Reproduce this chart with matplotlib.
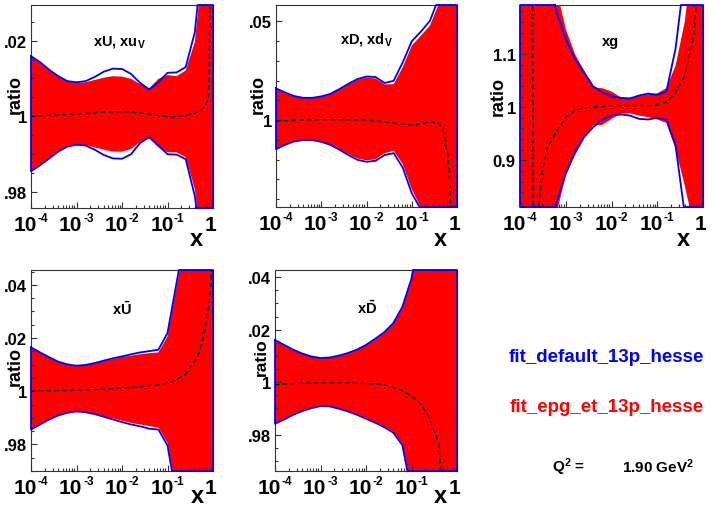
import numpy as np
import matplotlib
matplotlib.use('Agg')
import matplotlib.pyplot as plt
from matplotlib.path import Path
from matplotlib.transforms import Bbox, offset_copy
from matplotlib.ticker import FixedLocator, MultipleLocator, LogLocator, NullFormatter

plt.rcParams['font.family'] = ['Liberation Sans', 'DejaVu Sans']
plt.rcParams['font.weight'] = 'bold'
plt.rcParams['mathtext.fontset'] = 'custom'
plt.rcParams['mathtext.rm'] = 'Liberation Sans:bold'
plt.rcParams['mathtext.bf'] = 'Liberation Sans:bold'
plt.rcParams['mathtext.it'] = 'Liberation Sans:bold'
plt.rcParams['mathtext.sf'] = 'Liberation Sans:bold'
plt.rcParams['mathtext.default'] = 'rm'

# ---------------- data (log10 x grid) ----------------
logx = [-4.0, -3.8, -3.6, -3.4, -3.2, -3.0, -2.8, -2.6, -2.4, -2.2, -2.0, -1.8,
        -1.6, -1.4, -1.2, -1.0, -0.8, -0.6, -0.4, -0.3, -0.2, -0.1, -0.05, 0.0]

# xU, xu_V
xU_blue_up = [1.0159, 1.0143, 1.0123, 1.0106, 1.0093, 1.0090, 1.0093, 1.0104, 1.0118, 1.0126, 1.0125, 1.0112,
              1.0088, 1.0071, 1.0090, 1.0115, 1.0116, 1.0130, 1.0222, 1.034, 1.06, 1.10, 1.12, 1.15]
xU_blue_lo = [0.9855, 0.9871, 0.9889, 0.9907, 0.9920, 0.9925, 0.9923, 0.9912, 0.9898, 0.9889, 0.9888, 0.9900,
              0.9930, 0.9945, 0.9923, 0.9900, 0.9899, 0.9887, 0.9790, 0.970, 0.95, 0.92, 0.90, 0.88]
xU_red_up = [1.0157, 1.0141, 1.0122, 1.0104, 1.0092, 1.0088, 1.0090, 1.0096, 1.0102, 1.0106, 1.0105, 1.0099,
             1.0085, 1.0074, 1.0099, 1.0109, 1.0106, 1.0121, 1.0196, 1.031, 1.055, 1.09, 1.11, 1.14]
xU_red_lo = [0.9856, 0.9873, 0.9891, 0.9908, 0.9921, 0.9925, 0.9924, 0.9918, 0.9912, 0.9907, 0.9907, 0.9914,
             0.9933, 0.9942, 0.9918, 0.9905, 0.9905, 0.9892, 0.9808, 0.972, 0.955, 0.93, 0.91, 0.89]
xU_center = [1.0000, 1.0001, 1.0003, 1.0004, 1.0005, 1.0006, 1.0008, 1.0010, 1.0011, 1.0012, 1.0012, 1.0011,
             1.0009, 1.0006, 1.0002, 0.9999, 0.9999, 1.0003, 1.0008, 1.0013, 1.0024, 1.0046, 1.04, 1.10]

# xD, xd_V
xD_blue_up = [1.0161, 1.0140, 1.0122, 1.0113, 1.0113, 1.0120, 1.0133, 1.0157, 1.0184, 1.0208, 1.0221, 1.0218,
              1.0188, 1.0199, 1.0292, 1.0399, 1.0448, 1.0502, 1.062, 1.08, 1.10, 1.12, 1.13, 1.15]
xD_blue_lo = [0.9853, 0.9875, 0.9892, 0.9899, 0.9899, 0.9890, 0.9875, 0.9850, 0.9823, 0.9799, 0.9789, 0.9794,
              0.9823, 0.9833, 0.9760, 0.9630, 0.9549, 0.94, 0.92, 0.91, 0.90, 0.89, 0.885, 0.88]
xD_red_up = [1.0157, 1.0137, 1.0120, 1.0112, 1.0112, 1.0118, 1.0132, 1.0154, 1.0181, 1.0204, 1.0216, 1.0211,
             1.0181, 1.0182, 1.0267, 1.0377, 1.0427, 1.0478, 1.059, 1.075, 1.09, 1.11, 1.12, 1.14]
xD_red_lo = [0.9856, 0.9877, 0.9894, 0.9900, 0.9900, 0.9892, 0.9877, 0.9853, 0.9828, 0.9806, 0.9796, 0.9802,
             0.9833, 0.9845, 0.9777, 0.9650, 0.9557, 0.945, 0.93, 0.92, 0.91, 0.90, 0.895, 0.89]
xD_center = [0.9997, 0.9997, 0.9998, 0.9999, 1.0001, 1.0002, 1.0002, 1.0002, 1.0001, 1.0001, 1.0000, 0.9996,
             0.9991, 0.9985, 0.9980, 0.9975, 0.9980, 0.9992, 0.9985, 0.9946, 0.9819, 0.94, 0.92, 0.90]

# xg
xg_blue_up = [1.60, 1.45, 1.33, 1.25, 1.178, 1.128, 1.0906, 1.0656, 1.039, 1.028, 1.0206, 1.0175,
              1.0163, 1.0219, 1.0256, 1.0231, 1.0294, 1.11, 1.25, 1.35, 1.45, 1.55, 1.60, 1.65]
xg_blue_lo = [0.40, 0.55, 0.65, 0.75, 0.822, 0.875, 0.9156, 0.9438, 0.9625, 0.9769, 0.9844, 0.9863,
              0.9844, 0.9781, 0.9769, 0.9800, 0.9763, 0.928, 0.80, 0.70, 0.60, 0.50, 0.45, 0.40]
xg_red_up = [1.60, 1.50, 1.40, 1.30, 1.22, 1.147, 1.10, 1.069, 1.0375, 1.0356, 1.0294, 1.019,
             1.0175, 1.021, 1.024, 1.026, 1.036, 1.078, 1.16, 1.23, 1.30, 1.40, 1.45, 1.50]
xg_red_lo = [0.40, 0.50, 0.60, 0.72, 0.80, 0.872, 0.909, 0.9406, 0.9656, 0.9669, 0.9781, 0.9875,
             0.9888, 0.9844, 0.9813, 0.9769, 0.9706, 0.922, 0.853, 0.815, 0.77, 0.65, 0.60, 0.50]
xg_logx_c = [-4.0, -3.8, -3.73, -3.71, -3.65, -3.6, -3.55, -3.5, -3.4, -3.2, -3.0, -2.8, -2.6,
             -2.4, -2.2, -2.0, -1.6, -1.2, -1.0, -0.8, -0.6, -0.4, -0.2, -0.1, 0.0]
xg_center = [1.5, 1.3, 1.25, 0.6, 0.7, 0.81, 0.85, 0.885, 0.923, 0.956, 0.981, 0.994, 0.998,
             1.0006, 1.0019, 1.003, 1.003, 1.003, 1.0044, 1.0094, 1.028, 1.059, 1.134, 1.25, 1.4]

# xUbar
xUb_blue_up = [1.0165, 1.0146, 1.0128, 1.0111, 1.0101, 1.0096, 1.0099, 1.0106, 1.0115, 1.0124, 1.0131, 1.0139,
               1.0146, 1.0151, 1.0156, 1.0219, 1.0409, 1.06, 1.08, 1.09, 1.10, 1.11, 1.115, 1.12]
xUb_blue_lo = [0.9856, 0.9875, 0.9894, 0.9909, 0.9919, 0.9924, 0.9921, 0.9914, 0.9904, 0.9894, 0.9884, 0.9875,
               0.9868, 0.9859, 0.9856, 0.9796, 0.960, 0.94, 0.93, 0.92, 0.915, 0.91, 0.905, 0.90]
xUb_red_up = [1.0163, 1.0145, 1.0126, 1.0110, 1.0100, 1.0095, 1.0098, 1.0105, 1.0114, 1.0121, 1.0129, 1.0134,
              1.0139, 1.0143, 1.0146, 1.0206, 1.0396, 1.058, 1.075, 1.085, 1.095, 1.105, 1.11, 1.115]
xUb_red_lo = [0.9859, 0.9876, 0.9895, 0.9910, 0.9920, 0.9925, 0.9923, 0.9915, 0.9906, 0.9898, 0.9889, 0.9881,
              0.9875, 0.9869, 0.9863, 0.9806, 0.962, 0.945, 0.935, 0.925, 0.92, 0.915, 0.91, 0.905]
xUb_center = [1.0000, 1.0001, 1.0002, 1.0003, 1.0003, 1.0004, 1.0005, 1.0006, 1.0008, 1.0010, 1.0013, 1.0015,
              1.0017, 1.0021, 1.0025, 1.0031, 1.0044, 1.0065, 1.0115, 1.0146, 1.0215, 1.0309, 1.0396, 1.06]

# xDbar
xDb_blue_up = [1.0161, 1.0142, 1.0124, 1.0109, 1.0098, 1.0092, 1.0094, 1.0101, 1.0111, 1.0124, 1.0142, 1.0165,
               1.0190, 1.0225, 1.0287, 1.0395, 1.06, 1.08, 1.10, 1.11, 1.12, 1.13, 1.135, 1.14]
xDb_blue_lo = [0.9842, 0.9858, 0.9876, 0.9890, 0.9901, 0.9909, 0.9908, 0.9899, 0.9889, 0.9876, 0.9861, 0.9846,
               0.9829, 0.9808, 0.9760, 0.958, 0.94, 0.93, 0.92, 0.915, 0.91, 0.905, 0.90, 0.895]
xDb_red_up = [1.0159, 1.0140, 1.0123, 1.0108, 1.0097, 1.0091, 1.0093, 1.0100, 1.0110, 1.0122, 1.0140, 1.0162,
              1.0187, 1.0221, 1.0282, 1.0390, 1.058, 1.078, 1.095, 1.105, 1.115, 1.125, 1.13, 1.135]
xDb_red_lo = [0.9845, 0.9860, 0.9878, 0.9891, 0.9902, 0.9910, 0.9909, 0.9900, 0.9891, 0.9878, 0.9864, 0.9849,
              0.9832, 0.9812, 0.9765, 0.960, 0.942, 0.932, 0.922, 0.917, 0.912, 0.907, 0.902, 0.897]
xDb_center = [0.9990, 0.9993, 0.9995, 0.9996, 0.9997, 0.9997, 0.9997, 0.9997, 0.9997, 0.9996, 0.9995, 0.9993,
              0.9990, 0.9981, 0.9968, 0.9947, 0.9918, 0.9861, 0.9766, 0.955, 0.93, 0.90, 0.88, 0.85]

x_tick_vals = [1e-4, 1e-3, 1e-2, 1e-1, 1]
x_tick_base = ['10', '10', '10', '10', '1']
x_tick_exp = ['-4', '-3', '-2', '-1', '']

titles = [r'xU, xu$_{V}$', r'xD, xd$_{V}$', 'xg', r'x$\bar{U}$', r'x$\bar{D}$']
legend_names = ['fit_default_13p_hesse', 'fit_epg_et_13p_hesse']
q2_text = [r'Q$^{2}$ =', r'1.90 GeV$^{2}$']

# ---------------- layout ----------------
W, H = 713, 510
fig = plt.figure(figsize=(W / 100, H / 100), dpi=100)

BLUE = '#0000ff'
RED = '#ff0000'


def add_ax(l, t, r, b):
    return fig.add_axes([l / W, 1 - b / H, (r - l) / W, (b - t) / H])


def ftext(x, y, s, **kw):
    return fig.text(x / W, 1 - y / H, s, **kw)


def clipped_polys(lx, up, lo, ylim):
    lx = np.asarray(lx, float)
    up = np.asarray(up, float)
    lo = np.asarray(lo, float)
    v = np.concatenate([np.column_stack([lx, up]), np.column_stack([lx[::-1], lo[::-1]])])
    v = np.vstack([v, v[:1]])
    codes = [Path.MOVETO] + [Path.LINETO] * (len(v) - 2) + [Path.CLOSEPOLY]
    p = Path(v, codes).clip_to_bbox(Bbox([[lx[0], ylim[0]], [lx[-1], ylim[1]]]))
    polys = p.to_polygons(closed_only=True)
    out = []
    for poly in polys:
        poly = np.asarray(poly, float)
        out.append((10 ** poly[:, 0], poly[:, 1]))
    return out


def draw_xticklabels(ax):
    tr = ax.get_xaxis_transform()
    for v, base, ex in zip(x_tick_vals, x_tick_base, x_tick_exp):
        if ex:
            t1 = offset_copy(tr, fig=fig, x=6, y=-22, units='dots')
            ax.text(v, 0, base, transform=t1, ha='right', va='baseline', fontsize=15,
                    weight='bold', clip_on=False)
            t2 = offset_copy(tr, fig=fig, x=6.5, y=-13, units='dots')
            ax.text(v, 0, ex, transform=t2, ha='left', va='baseline', fontsize=8.5,
                    weight='bold', clip_on=False)
        else:
            t1 = offset_copy(tr, fig=fig, x=-2, y=-22, units='dots')
            ax.text(v, 0, base, transform=t1, ha='center', va='baseline', fontsize=15,
                    weight='bold', clip_on=False)


panels = [
    dict(box=(31, 6, 213, 209), ylim=(0.9758, 1.0294), yt=[0.98, 1.0, 1.02], ytl=['.98', '1', '.02'], ym=0.005,
         bu=xU_blue_up, bl=xU_blue_lo, ru=xU_red_up, rl=xU_red_lo, lxc=logx, c=xU_center),
    dict(box=(276, 6, 457, 208), ylim=(0.956, 1.0583), yt=[1.0, 1.05], ytl=['1', '.05'], ym=0.01,
         bu=xD_blue_up, bl=xD_blue_lo, ru=xD_red_up, rl=xD_red_lo, lxc=logx, c=xD_center),
    dict(box=(520, 6, 703, 208), ylim=(0.8125, 1.192), yt=[0.9, 1.0, 1.1], ytl=['0.9', '1', '1.1'], ym=0.02,
         bu=xg_blue_up, bl=xg_blue_lo, ru=xg_red_up, rl=xg_red_lo, lxc=xg_logx_c, c=xg_center),
    dict(box=(31, 271, 213, 472), ylim=(0.970, 1.0456), yt=[0.98, 1.0, 1.02, 1.04], ytl=['.98', '1', '.02', '.04'], ym=0.005,
         bu=xUb_blue_up, bl=xUb_blue_lo, ru=xUb_red_up, rl=xUb_red_lo, lxc=logx, c=xUb_center),
    dict(box=(275, 271, 457, 472), ylim=(0.9662, 1.0427), yt=[0.98, 1.0, 1.02, 1.04], ytl=['.98', '1', '.02', '.04'], ym=0.005,
         bu=xDb_blue_up, bl=xDb_blue_lo, ru=xDb_red_up, rl=xDb_red_lo, lxc=logx, c=xDb_center),
]

for p in panels:
    ax = add_ax(*p['box'])
    ax.set_xscale('log')
    ax.set_xlim(1e-4, 1)
    ax.set_ylim(*p['ylim'])
    # red band
    for xs, ys in clipped_polys(logx, p['ru'], p['rl'], p['ylim']):
        ax.fill(xs, ys, color=RED, lw=0, zorder=1)
    # central dashed
    ax.plot(10 ** np.asarray(p['lxc']), p['c'], color='black', lw=1.0, dashes=(3.2, 2.4), zorder=2)
    # blue outline
    for xs, ys in clipped_polys(logx, p['bu'], p['bl'], p['ylim']):
        ax.plot(xs, ys, color=BLUE, lw=1.3, clip_on=False, zorder=3, solid_joinstyle='round')
    # ticks
    ax.xaxis.set_major_locator(FixedLocator(x_tick_vals))
    ax.set_xticklabels([])
    ax.xaxis.set_minor_locator(LogLocator(base=10, subs=np.arange(2, 10)))
    ax.xaxis.set_minor_formatter(NullFormatter())
    draw_xticklabels(ax)
    ax.yaxis.set_major_locator(FixedLocator(p['yt']))
    ax.set_yticklabels(p['ytl'])
    ax.yaxis.set_minor_locator(MultipleLocator(p['ym']))
    ax.tick_params(axis='both', which='both', direction='in', top=False, right=False, width=0.8, color='#333333')
    ax.tick_params(axis='both', which='major', length=4.5)
    ax.tick_params(axis='both', which='minor', length=2.3)
    ax.tick_params(axis='y', which='major', labelsize=12, pad=3)
    for lab in ax.get_yticklabels():
        lab.set_fontweight('bold')
    for s in ax.spines.values():
        s.set_linewidth(0.8)
        s.set_color('#333333')
        s.set_zorder(0.5)

# titles
ftext(93, 45, titles[0], fontsize=10.5, weight='bold', ha='left', va='baseline')
ftext(340, 44, titles[1], fontsize=10.5, weight='bold', ha='left', va='baseline')
ftext(602, 46, titles[2], fontsize=10.5, weight='bold', ha='left', va='baseline')
ftext(112, 315, titles[3], fontsize=10.5, weight='bold', ha='left', va='baseline')
ftext(357, 314, titles[4], fontsize=10.5, weight='bold', ha='left', va='baseline')

# y labels
for (xx, yy, fs) in [(15, 94, 13), (258, 95, 13), (498, 97, 13), (15, 366, 13), (261, 357, 12.5)]:
    ftext(xx, yy, 'ratio', fontsize=fs, weight='bold', rotation=90, ha='center', va='center')

# x labels
for (xx, yy) in [(196, 240), (440, 240), (683, 240), (197, 497), (440, 497)]:
    ftext(xx, yy, 'x', fontsize=17, weight='bold', ha='center', va='center')

# legend
ftext(509, 358, legend_names[0], fontsize=13.5, weight='bold', color=BLUE, ha='left', va='center')
ftext(510, 407, legend_names[1], fontsize=13.5, weight='bold', color=RED, ha='left', va='center')
ftext(552, 467, q2_text[0], fontsize=11, weight='bold', ha='left', va='center')
ftext(622, 467, q2_text[1], fontsize=11, weight='bold', ha='left', va='center')

fig.savefig('out.png', dpi=100)
